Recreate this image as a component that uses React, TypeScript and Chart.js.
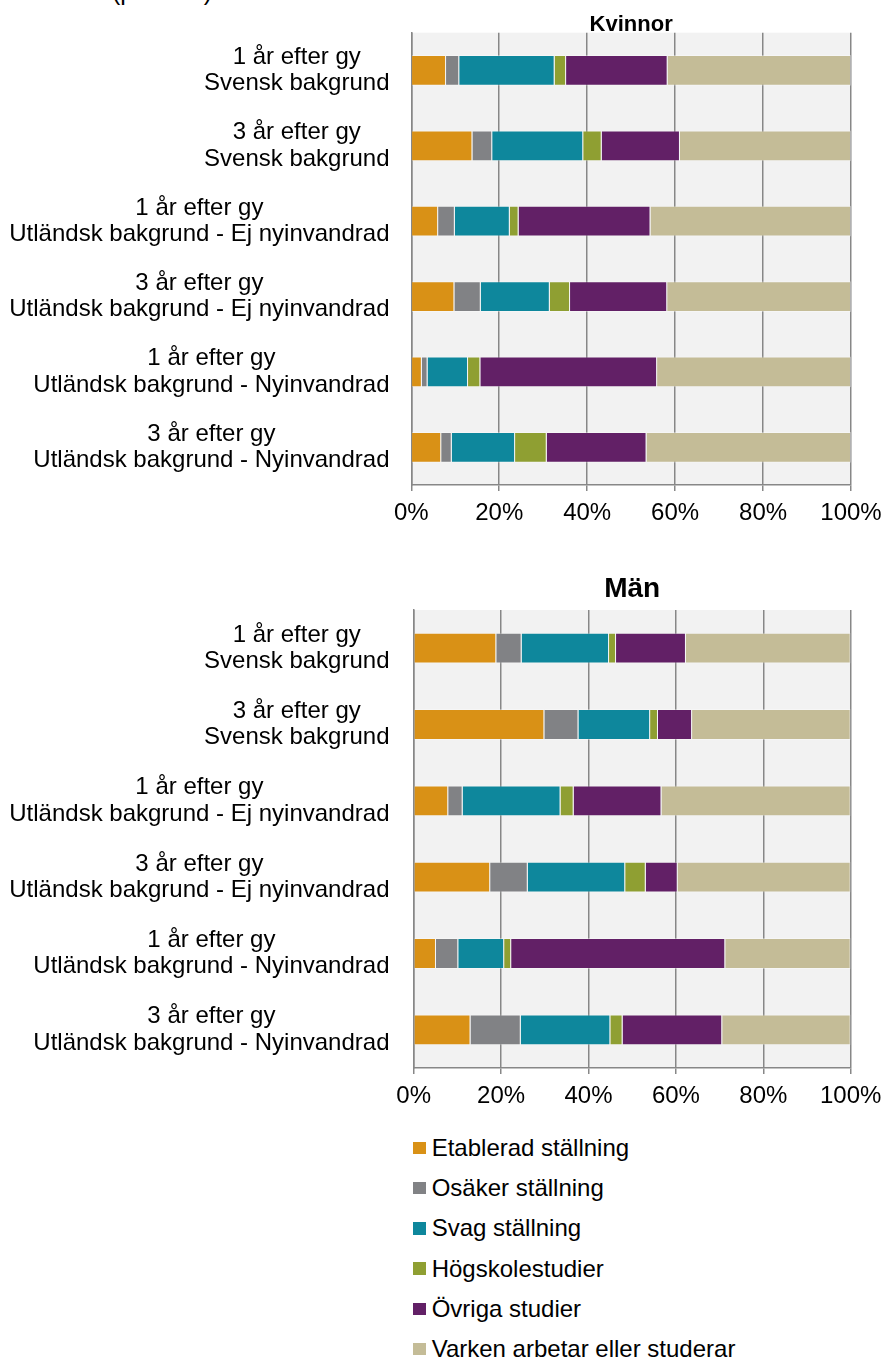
import React, { useEffect, useRef } from 'react';
import { Chart, registerables } from 'chart.js';

Chart.register(...registerables);

const FONT = '"Liberation Sans", Arial, Helvetica, sans-serif';

const categories: string[][] = [
  ['1 år efter gy', 'Svensk bakgrund'],
  ['3 år efter gy', 'Svensk bakgrund'],
  ['1 år efter gy', 'Utländsk bakgrund - Ej nyinvandrad'],
  ['3 år efter gy', 'Utländsk bakgrund - Ej nyinvandrad'],
  ['1 år efter gy', 'Utländsk bakgrund - Nyinvandrad'],
  ['3 år efter gy', 'Utländsk bakgrund - Nyinvandrad'],
];

const seriesNames = [
  'Etablerad ställning',
  'Osäker ställning',
  'Svag ställning',
  'Högskolestudier',
  'Övriga studier',
  'Varken arbetar eller studerar',
];

const seriesColors = ['#D99116', '#818285', '#0E879C', '#8F9F32', '#622066', '#C4BC97'];

const xTickValues = [0, 20, 40, 60, 80, 100];

// Kvinnor (percent)
const etabK = [7.9, 13.9, 6.1, 9.8, 2.4, 6.8];
const osakK = [3.0, 4.5, 3.8, 6.0, 1.3, 2.4];
const svagK = [21.7, 20.7, 12.5, 15.7, 9.2, 14.4];
const hogskK = [2.6, 4.2, 2.0, 4.6, 2.8, 7.2];
const ovrK = [23.1, 17.8, 30.0, 22.1, 40.2, 22.7];
const varkenK = [41.7, 38.9, 45.6, 41.8, 44.1, 46.5];

// Män (percent)
const etabM = [18.9, 29.9, 7.9, 17.5, 5.1, 13.0];
const osakM = [5.8, 7.8, 3.3, 8.6, 5.1, 11.5];
const svagM = [20.0, 16.4, 22.4, 22.3, 10.5, 20.5];
const hogskM = [1.6, 1.8, 3.0, 4.7, 1.6, 2.8];
const ovrM = [16.0, 7.8, 20.1, 7.3, 49.0, 22.8];
const varkenM = [37.7, 36.3, 43.3, 39.6, 28.7, 29.4];

const seriesK = [etabK, osakK, svagK, hogskK, ovrK, varkenK];
const seriesM = [etabM, osakM, svagM, hogskM, ovrM, varkenM];

const GRID = '#878787';

const decorPlugin = {
  id: 'decor',
  beforeDraw(chart: any) {
    const { ctx, chartArea: a } = chart;
    ctx.save();
    ctx.fillStyle = '#f2f2f2';
    ctx.fillRect(a.left, a.top, a.right - a.left, a.bottom - a.top);
    ctx.restore();
  },
  afterDraw(chart: any, _args: any, opts: any) {
    const { ctx, chartArea: a } = chart;
    const yScale = chart.scales.y;
    ctx.save();
    ctx.fillStyle = '#000';
    ctx.font = `bold ${opts.titleSize}px ${FONT}`;
    ctx.textAlign = 'center';
    ctx.textBaseline = 'alphabetic';
    ctx.fillText(opts.title, (a.left + a.right) / 2, opts.titleBaseline);

    ctx.font = `24px ${FONT}`;
    ctx.textBaseline = 'middle';
    const lh = 26.5;
    (chart.data.labels as string[][]).forEach((lines, i) => {
      const cy = yScale.getPixelForValue(i);
      const widest = Math.max(...lines.map((l) => ctx.measureText(l).width));
      const cx = opts.labelRight - widest / 2;
      lines.forEach((l, j) => {
        ctx.fillText(l, cx, cy + (j - (lines.length - 1) / 2) * lh);
      });
    });
    ctx.restore();
  },
};

type Cfg = {
  series: number[][];
  title: string;
  titleSize: number;
  titleBaseline: number;
  labelRight: number;
  yWidth: number;
  xHeight: number;
  padTop: number;
  padRight: number;
  barPct: number;
};

function StackChart({ cfg, width, height }: { cfg: Cfg; width: number; height: number }) {
  const ref = useRef<HTMLCanvasElement | null>(null);
  useEffect(() => {
    if (!ref.current) return;
    const chart = new Chart(ref.current, {
      type: 'bar',
      data: {
        labels: categories as any,
        datasets: cfg.series.map((d, i) => ({
          label: seriesNames[i],
          data: d,
          backgroundColor: seriesColors[i],
          borderColor: 'rgba(255,255,255,0.35)',
          borderWidth: 1,
          barPercentage: cfg.barPct,
          categoryPercentage: 1,
        })),
      },
      options: {
        indexAxis: 'y',
        responsive: false,
        animation: false,
        devicePixelRatio: 1,
        layout: { padding: { top: cfg.padTop, right: cfg.padRight, left: 0, bottom: 0 } },
        plugins: {
          legend: { display: false },
          tooltip: { enabled: false },
          title: { display: false },
          decor: {
            title: cfg.title,
            titleSize: cfg.titleSize,
            titleBaseline: cfg.titleBaseline,
            labelRight: cfg.labelRight,
          },
        } as any,
        scales: {
          x: {
            stacked: true,
            min: 0,
            max: 100,
            afterFit: (s: any) => {
              s.height = cfg.xHeight;
              s.paddingLeft = 0;
              s.paddingRight = 0;
            },
            afterBuildTicks: (s: any) => {
              s.ticks = xTickValues.map((v) => ({ value: v }));
            },
            grid: {
              color: GRID,
              lineWidth: 1.5,
              drawTicks: true,
              tickLength: 6,
              tickColor: GRID,
              tickWidth: 1.5,
            },
            border: { display: true, color: GRID, width: 1.5 },
            ticks: {
              padding: 8,
              color: '#000',
              font: { family: FONT, size: 24 },
              callback: (v: any) => `${v}%`,
              maxRotation: 0,
              autoSkip: false,
            },
          },
          y: {
            stacked: true,
            afterFit: (s: any) => {
              s.width = cfg.yWidth;
            },
            grid: { display: false, drawTicks: false },
            border: { display: true, color: GRID, width: 1.5 },
            ticks: { display: false },
          },
        },
      },
      plugins: [decorPlugin],
    });
    return () => chart.destroy();
  }, []);
  return <canvas ref={ref} width={width} height={height} style={{ display: 'block', width, height }} />;
}

const topCfg: Cfg = {
  series: seriesK,
  title: 'Kvinnor',
  titleSize: 22,
  titleBaseline: 31,
  labelRight: 389.5,
  yWidth: 411.3,
  xHeight: 55,
  padTop: 32.7,
  padRight: 32,
  barPct: 0.408,
};

const bottomCfg: Cfg = {
  series: seriesM,
  title: 'Män',
  titleSize: 28,
  titleBaseline: 57.3,
  labelRight: 389.5,
  yWidth: 413.7,
  xHeight: 52,
  padTop: 70,
  padRight: 32.3,
  barPct: 0.403,
};

export default function App() {
  return (
    <div style={{ position: 'absolute', left: 0, top: 0, width: 883, height: 1359, overflow: 'hidden', background: '#fff' }}>
      <div
        style={{
          position: 'absolute',
          left: 112,
          top: -21,
          font: `25px ${FONT}`,
          lineHeight: '25px',
          color: '#000',
          whiteSpace: 'nowrap',
        }}
      >
        (procent)
      </div>
      <div style={{ position: 'absolute', left: 0, top: 0 }}>
        <StackChart cfg={topCfg} width={883} height={540} />
      </div>
      <div style={{ position: 'absolute', left: 0, top: 540 }}>
        <StackChart cfg={bottomCfg} width={883} height={580} />
      </div>
      {seriesNames.map((name, i) => (
        <div
          key={name}
          style={{
            position: 'absolute',
            left: 413.3,
            top: 1148 + i * 40.2 - 20,
            height: 40,
            display: 'flex',
            alignItems: 'center',
            whiteSpace: 'nowrap',
          }}
        >
          <span style={{ display: 'inline-block', width: 12.4, height: 12.4, background: seriesColors[i], marginRight: 6 }} />
          <span style={{ font: `24px ${FONT}`, lineHeight: '24px', color: '#000' }}>{name}</span>
        </div>
      ))}
    </div>
  );
}
